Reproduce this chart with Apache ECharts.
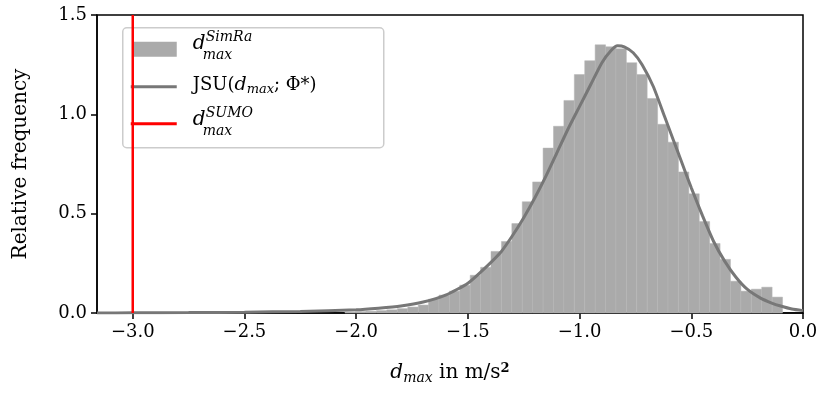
<!DOCTYPE html>
<html><head><meta charset="utf-8">
<script src="https://cdn.jsdelivr.net/npm/echarts@6/dist/echarts.min.js"></script>
<style>html,body{margin:0;padding:0;background:#fff}#c{width:830px;height:411px}</style>
</head><body><div id="c"></div>
<script>
const binStart = -1.676;
const binWidth = 0.0466;
const tailStarts = [-2.05,-2.003,-1.956,-1.909,-1.863,-1.816,-1.769,-1.722];
const tailHeights = [0.005,0.007,0.009,0.012,0.016,0.022,0.03,0.04];
const binHeights = [0.07,0.09,0.11,0.14,0.19,0.23,0.31,0.36,0.45,0.56,0.66,0.83,0.94,1.07,1.20,1.27,1.35,1.34,1.33,1.26,1.20,1.08,0.95,0.86,0.71,0.60,0.46,0.35,0.27,0.16,0.11,0.12,0.13,0.08];
const curveX = [-3.16,-3.0,-2.75,-2.5,-2.25,-2.0,-1.9,-1.8,-1.7,-1.6,-1.5,-1.42,-1.35,-1.3,-1.25,-1.2,-1.15,-1.1,-1.05,-1.0,-0.95,-0.9,-0.86,-0.83,-0.8,-0.76,-0.72,-0.67,-0.62,-0.58,-0.54,-0.5,-0.45,-0.4,-0.35,-0.3,-0.25,-0.19,-0.14,-0.1,-0.05,0.0];
const curveY = [0.0,0.001,0.002,0.004,0.008,0.016,0.024,0.035,0.055,0.09,0.15,0.23,0.31,0.39,0.48,0.58,0.69,0.81,0.93,1.04,1.15,1.26,1.32,1.345,1.34,1.31,1.25,1.14,0.99,0.87,0.75,0.63,0.49,0.36,0.26,0.18,0.12,0.075,0.05,0.035,0.02,0.012];
const sumoX = -3.0;
const xTicks = [-3.0,-2.5,-2.0,-1.5,-1.0,-0.5,0.0];

const bins = [];
tailStarts.forEach((s,i)=>bins.push([s, s+binWidth, tailHeights[i]]));
binHeights.forEach((h,i)=>bins.push([binStart+i*binWidth, binStart+(i+1)*binWidth, h]));

const serif = 'DejaVu Serif';
const chart = echarts.init(document.getElementById('c'));
chart.setOption({
  animation:false,
  grid:{left:97,right:27,top:15,bottom:98,show:true,borderColor:'#000',borderWidth:1.5,backgroundColor:'transparent'},
  xAxis:{type:'value',min:-3.16,max:0,
    axisLine:{onZero:false,lineStyle:{color:'#000',width:1.5}},
    axisTick:{customValues:xTicks,length:6,lineStyle:{color:'#000',width:1.5}},
    axisLabel:{customValues:xTicks,color:'#000',fontFamily:serif,fontSize:18,margin:10,formatter:v=>(v<0?'\u2212':'')+Math.abs(v).toFixed(1)},
    splitLine:{show:false},
    name:'{i|d}{s|max}{n| in m/s}{b|2}',nameLocation:'middle',nameGap:48,
    nameTextStyle:{rich:{i:{fontFamily:serif,fontStyle:'italic',fontSize:20,color:'#000'},s:{fontFamily:serif,fontStyle:'italic',fontSize:14,color:'#000',padding:[10,0,0,0]},n:{fontFamily:serif,fontSize:20,color:'#000'},b:{fontFamily:serif,fontSize:13,fontWeight:'bold',color:'#000',padding:[0,0,8,0]}}}
  },
  yAxis:{type:'value',min:0,max:1.5,interval:0.5,
    axisLine:{show:true,onZero:false,lineStyle:{color:'#000',width:1.5}},
    axisTick:{show:true,length:6,lineStyle:{color:'#000',width:1.5}},
    axisLabel:{color:'#000',fontFamily:serif,fontSize:18,margin:10,formatter:v=>v.toFixed(1)},
    splitLine:{show:false},
    name:'Relative frequency',nameLocation:'middle',nameGap:66,
    nameTextStyle:{fontFamily:serif,fontSize:20,color:'#000'}
  },
  series:[
    {type:'custom',data:bins,silent:true,z:1,
      renderItem:(p,api)=>{
        const a=api.coord([api.value(0),api.value(2)]);
        const b=api.coord([api.value(1),0]);
        return {type:'rect',shape:{x:a[0],y:a[1],width:b[0]-a[0],height:b[1]-a[1]},
          style:{fill:'#aaaaaa',stroke:'#b4b4b4',lineWidth:0.5}};
      }},
    {type:'line',data:curveX.map((x,i)=>[x,curveY[i]]),smooth:0.2,showSymbol:false,z:3,
      lineStyle:{color:'#777777',width:3}},
    {type:'line',data:[[sumoX,0],[sumoX,1.5]],showSymbol:false,z:4,lineStyle:{color:'#ff0000',width:2.5}}
  ],
  graphic:[{type:'group',left:122,top:27,z:100,children:[
    {type:'rect',shape:{x:0,y:0,width:261,height:120,r:4},style:{fill:'rgba(255,255,255,0.8)',stroke:'#cccccc',lineWidth:1.5}},
    {type:'rect',shape:{x:10,y:14,width:44,height:15},style:{fill:'#aaaaaa'}},
    {type:'line',shape:{x1:8,y1:59,x2:54,y2:59},style:{stroke:'#777777',lineWidth:3}},
    {type:'line',shape:{x1:8,y1:96,x2:54,y2:96},style:{stroke:'#ff0000',lineWidth:3}},
    {type:'text',x:70,y:6,style:{text:'d',fontFamily:serif,fontStyle:'italic',fontSize:20,fill:'#000'}},
    {type:'text',x:83,y:3,style:{text:'SimRa',fontFamily:serif,fontStyle:'italic',fontSize:14,fill:'#000'}},
    {type:'text',x:80,y:21,style:{text:'max',fontFamily:serif,fontStyle:'italic',fontSize:14,fill:'#000'}},
    {type:'text',x:70,y:47,style:{text:'JSU({i|d}{s|max}; Φ*)',fontFamily:serif,fontSize:18,fill:'#000',rich:{i:{fontFamily:serif,fontStyle:'italic',fontSize:19,color:'#000'},s:{fontFamily:serif,fontStyle:'italic',fontSize:13,color:'#000',padding:[8,0,0,0]}}}},
    {type:'text',x:70,y:82,style:{text:'d',fontFamily:serif,fontStyle:'italic',fontSize:20,fill:'#000'}},
    {type:'text',x:83,y:79,style:{text:'SUMO',fontFamily:serif,fontStyle:'italic',fontSize:14,fill:'#000'}},
    {type:'text',x:80,y:97,style:{text:'max',fontFamily:serif,fontStyle:'italic',fontSize:14,fill:'#000'}}
  ]}]
});
</script></body></html>
